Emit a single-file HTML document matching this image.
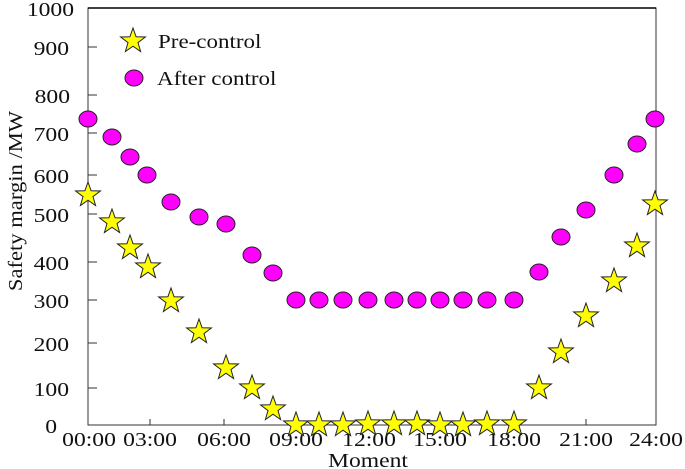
<!DOCTYPE html><html><head><style>body{margin:0;background:#fff}svg{display:block}text{font-family:"Liberation Serif",serif;font-size:20px;fill:#111}</style></head><body>
<svg width="685" height="469" viewBox="0 0 685 469">
<defs>
<polygon id="s" points="0,-13 3.1,-4.2 12.4,-4 5,1.6 7.6,10.5 0,5.2 -7.6,10.5 -5,1.6 -12.4,-4 -3.1,-4.2" fill="#ffff00" stroke="#222" stroke-width="1"/>
<ellipse id="c" rx="9" ry="8" fill="#ff00ff" stroke="#222" stroke-width="1"/>
</defs>
<rect x="88" y="8" width="568" height="417" fill="none" stroke="#333" stroke-width="1"/>
<line x1="88" y1="8" x2="656" y2="8" stroke="#000" stroke-width="1.5"/>
<g stroke="#333" stroke-width="1">
<line x1="88" y1="47" x2="97" y2="47"/><line x1="88" y1="95" x2="97" y2="95"/><line x1="88" y1="133" x2="97" y2="133"/><line x1="88" y1="175" x2="97" y2="175"/><line x1="88" y1="214" x2="97" y2="214"/><line x1="88" y1="262" x2="97" y2="262"/><line x1="88" y1="300" x2="97" y2="300"/><line x1="88" y1="343" x2="97" y2="343"/><line x1="88" y1="388" x2="97" y2="388"/>
<line x1="150" y1="425" x2="150" y2="419"/><line x1="224" y1="425" x2="224" y2="419"/><line x1="296" y1="425" x2="296" y2="419"/><line x1="586" y1="425" x2="586" y2="419"/>
</g>
<g text-anchor="end">
<g transform="translate(74,16) scale(1.18,1)"><text>1000</text></g>
<g transform="translate(69,55) scale(1.18,1)"><text>900</text></g>
<g transform="translate(70,103) scale(1.18,1)"><text>800</text></g>
<g transform="translate(69,141) scale(1.18,1)"><text>700</text></g>
<g transform="translate(69,183) scale(1.18,1)"><text>600</text></g>
<g transform="translate(69,222) scale(1.18,1)"><text>500</text></g>
<g transform="translate(69,270) scale(1.18,1)"><text>400</text></g>
<g transform="translate(69,308) scale(1.18,1)"><text>300</text></g>
<g transform="translate(69,351) scale(1.18,1)"><text>200</text></g>
<g transform="translate(69,396) scale(1.18,1)"><text>100</text></g>
<g transform="translate(57,433) scale(1.18,1)"><text>0</text></g>
</g>
<g text-anchor="middle">
<g transform="translate(89,446) scale(1.18,1)"><text>00:00</text></g>
<g transform="translate(150,446) scale(1.18,1)"><text>03:00</text></g>
<g transform="translate(224,446) scale(1.18,1)"><text>06:00</text></g>
<g transform="translate(296,446) scale(1.18,1)"><text>09:00</text></g>
<g transform="translate(369,446) scale(1.18,1)"><text>12:00</text></g>
<g transform="translate(440,446) scale(1.18,1)"><text>15:00</text></g>
<g transform="translate(514,446) scale(1.18,1)"><text>18:00</text></g>
<g transform="translate(586,446) scale(1.18,1)"><text>21:00</text></g>
<g transform="translate(656,446) scale(1.18,1)"><text>24:00</text></g>
<g transform="translate(368,467) scale(1.18,1)"><text font-size="21">Moment</text></g>
<g transform="translate(22,201) rotate(-90) scale(1.13,1)"><text>Safety margin /MW</text></g>
</g>
<use href="#s" x="133" y="41"/><g transform="translate(158,48) scale(1.15,1)"><text font-size="21">Pre-control</text></g>
<use href="#c" x="134" y="78"/><g transform="translate(157,85) scale(1.15,1)"><text font-size="21">After control</text></g>
<g>
<use href="#c" x="88" y="119"/><use href="#c" x="112" y="137"/><use href="#c" x="130" y="157"/><use href="#c" x="147" y="175"/><use href="#c" x="171" y="202"/><use href="#c" x="199" y="217"/><use href="#c" x="226" y="224"/><use href="#c" x="252" y="255"/><use href="#c" x="273" y="273"/>
<use href="#c" x="296" y="300"/><use href="#c" x="319" y="300"/><use href="#c" x="343" y="300"/><use href="#c" x="368" y="300"/><use href="#c" x="394" y="300"/><use href="#c" x="417" y="300"/><use href="#c" x="440" y="300"/><use href="#c" x="463" y="300"/><use href="#c" x="487" y="300"/><use href="#c" x="514" y="300"/>
<use href="#c" x="539" y="272"/><use href="#c" x="561" y="237"/><use href="#c" x="586" y="210"/><use href="#c" x="614" y="175"/><use href="#c" x="637" y="144"/><use href="#c" x="655" y="119"/>
</g>
<g>
<use href="#s" x="88" y="195"/><use href="#s" x="112" y="222"/><use href="#s" x="130" y="248"/><use href="#s" x="148" y="267"/><use href="#s" x="171" y="301"/><use href="#s" x="199" y="332"/><use href="#s" x="226" y="368"/><use href="#s" x="252" y="388"/><use href="#s" x="273" y="409"/>
<use href="#s" x="296" y="425"/><use href="#s" x="319" y="425"/><use href="#s" x="343" y="425"/><use href="#s" x="368" y="424"/><use href="#s" x="394" y="424"/><use href="#s" x="417" y="424"/><use href="#s" x="440" y="425"/><use href="#s" x="463" y="425"/><use href="#s" x="487" y="424"/><use href="#s" x="514" y="424"/>
<use href="#s" x="539" y="388"/><use href="#s" x="561" y="352"/><use href="#s" x="586" y="316"/><use href="#s" x="614" y="281"/><use href="#s" x="637" y="246"/><use href="#s" x="655" y="204"/>
</g>
</svg></body></html>
